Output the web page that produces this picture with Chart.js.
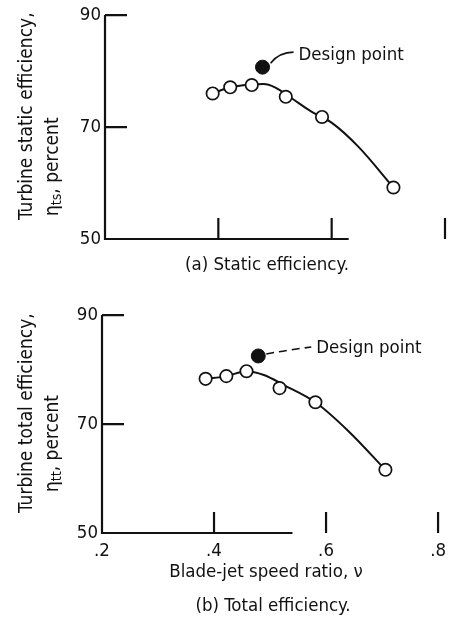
<!DOCTYPE html>
<html>
<head>
<meta charset="utf-8">
<script src="https://cdn.jsdelivr.net/npm/chart.js@4.4.0/dist/chart.umd.min.js"></script>
<style>
body{margin:0;background:#fff;}
#wrap{position:relative;width:453px;height:622px;}
canvas{position:absolute;left:0;}
</style>
</head>
<body>
<div id="wrap">
<canvas id="chartA" width="453" height="300" style="top:0"></canvas>
<canvas id="chartB" width="453" height="322" style="top:300px"></canvas>
</div>
<script>
// values
var xTicks = [0.2, 0.4, 0.6, 0.8];
var xTickLabels = [".2", ".4", ".6", ".8"];
var yTicks = [50, 70, 90];

// (a) static efficiency
var ratioA = [0.39, 0.421, 0.459, 0.519, 0.583, 0.709];
var effA   = [76.0, 77.1, 77.5, 75.4, 71.8, 59.2];
var designA = [0.478, 80.7];
var fairXA = [0.39, 0.421, 0.459, 0.48, 0.50, 0.53, 0.565, 0.601, 0.647, 0.709];
var fairYA = [76.0, 77.1, 77.6, 77.7, 77.1, 75.1, 72.7, 70.7, 66.5, 59.2];

// (b) total efficiency
var ratioB = [0.385, 0.422, 0.458, 0.517, 0.581, 0.706];
var effB   = [78.3, 78.8, 79.7, 76.6, 74.0, 61.6];
var designB = [0.479, 82.5];
var fairXB = [0.385, 0.422, 0.458, 0.489, 0.524, 0.581, 0.641, 0.706];
var fairYB = [78.3, 78.8, 79.7, 79.0, 77.2, 74.0, 68.6, 61.6];

var FAM = '"DejaVu Sans Condensed", "Liberation Sans", sans-serif';
var INK = '#111';

function pts(xs, ys) {
  return xs.map(function (x, i) { return {x: x, y: ys[i]}; });
}

// axis title drawn rotated, parts = [[text, isSub], ...]
function rotText(ctx, parts, x, y) {
  ctx.save();
  ctx.translate(x, y);
  ctx.rotate(-Math.PI / 2);
  ctx.textAlign = 'left';
  ctx.textBaseline = 'alphabetic';
  var cx = 0;
  parts.forEach(function (p) {
    ctx.font = (p[1] ? '14px ' : '19px ') + FAM;
    ctx.fillText(p[0], cx, p[1] ? 3 : 0);
    cx += ctx.measureText(p[0]).width;
  });
  ctx.restore();
}

var sketch = {
  id: 'sketch',
  beforeDatasetsDraw: function (chart, args, o) {
    var ctx = chart.ctx, xs = chart.scales.x, ys = chart.scales.y;
    var x0 = xs.getPixelForValue(xTicks[0]);
    var yb = ys.getPixelForValue(yTicks[0]);
    ctx.save();
    ctx.strokeStyle = INK;
    ctx.lineWidth = 2.2;
    ctx.beginPath();
    ctx.moveTo(x0, ys.getPixelForValue(yTicks[yTicks.length - 1]));
    ctx.lineTo(x0, yb);
    ctx.lineTo(xs.getPixelForValue(o.baseEnd), yb);
    yTicks.slice(1).forEach(function (v) {
      var y = ys.getPixelForValue(v);
      ctx.moveTo(x0, y); ctx.lineTo(x0 + 22, y);
    });
    xTicks.slice(1).forEach(function (v) {
      var x = xs.getPixelForValue(v);
      ctx.moveTo(x, yb); ctx.lineTo(x, yb - 21);
    });
    ctx.stroke();
    ctx.restore();
  },
  afterDatasetsDraw: function (chart, args, o) {
    var ctx = chart.ctx, xs = chart.scales.x, ys = chart.scales.y;
    var dx = xs.getPixelForValue(o.design[0]), dy = ys.getPixelForValue(o.design[1]);
    ctx.save();
    ctx.strokeStyle = INK;
    ctx.fillStyle = INK;
    ctx.lineWidth = 1.6;
    ctx.beginPath();
    if (o.dashed) {
      ctx.setLineDash([8, 5]);
      ctx.moveTo(dx + 8, dy - 2);
      ctx.quadraticCurveTo(dx + 30, dy - 6, dx + 53, dy - 9);
    } else {
      ctx.moveTo(dx + 8, dy - 4);
      ctx.quadraticCurveTo(dx + 17, dy - 15, dx + 31, dy - 15);
    }
    ctx.stroke();
    ctx.setLineDash([]);
    ctx.font = '18.5px ' + FAM;
    ctx.textBaseline = 'middle';
    ctx.textAlign = 'left';
    ctx.fillText('Design point', dx + o.labelDx, dy + o.labelDy);

    rotText(ctx, o.title1, 32, o.t1y);
    rotText(ctx, o.title2, 58, o.t2y);

    ctx.textAlign = 'center';
    ctx.font = '18.5px ' + FAM;
    o.captions.forEach(function (c) {
      ctx.fillText(c[0], c[1], c[2]);
    });
    ctx.restore();
  }
};

function makeChart(id, d) {
  return new Chart(id, {
    type: 'scatter',
    data: {
      datasets: [
        {data: pts(d.xs, d.ys), order: 1, pointRadius: 6.2, pointBorderWidth: 1.7,
         pointBackgroundColor: '#fff', pointBorderColor: INK},
        {data: [{x: d.design[0], y: d.design[1]}], order: 1, pointRadius: 7,
         pointBackgroundColor: INK, pointBorderColor: INK},
        {data: pts(d.fx, d.fy), order: 2, showLine: true, pointRadius: 0,
         borderColor: INK, borderWidth: 2, cubicInterpolationMode: 'monotone'}
      ]
    },
    options: {
      responsive: false,
      animation: false,
      layout: {padding: d.pad},
      plugins: {
        legend: {display: false},
        tooltip: {enabled: false},
        sketch: d.sketch
      },
      scales: {
        x: {
          type: 'linear', min: 0.2, max: 0.8,
          display: d.showX,
          grid: {display: false, drawTicks: false},
          border: {display: false},
          afterBuildTicks: function (s) { s.ticks = xTicks.map(function (v) { return {value: v}; }); },
          afterFit: function (s) { s.height = d.xh; },
          ticks: {
            padding: 7, color: INK, font: {family: FAM, size: 18.5},
            callback: function (v) { return xTickLabels[xTicks.indexOf(v)]; }
          }
        },
        y: {
          min: 50, max: 90,
          grid: {display: false, drawTicks: false},
          border: {display: false},
          afterBuildTicks: function (s) { s.ticks = yTicks.map(function (v) { return {value: v}; }); },
          afterFit: function (s) { s.width = d.yw; },
          ticks: {padding: 4, color: INK, font: {family: FAM, size: 18.5}}
        }
      }
    },
    plugins: [sketch]
  });
}

makeChart('chartA', {
  xs: ratioA, ys: effA, design: designA, fx: fairXA, fy: fairYA,
  pad: {left: 0, right: 6, top: 15, bottom: 61},
  showX: false, xh: 0, yw: 105,
  sketch: {
    baseEnd: 0.63, design: designA, dashed: false, labelDx: 36, labelDy: -12,
    title1: [['Turbine static efficiency,', false]],
    title2: [['\u03b7', false], ['ts', true], [', percent', false]],
    t1y: 220, t2y: 216,
    captions: [['(a) Static efficiency.', 267, 265]]
  }
});

makeChart('chartB', {
  xs: ratioB, ys: effB, design: designB, fx: fairXB, fy: fairYB,
  pad: {left: 0, right: 9, top: 11, bottom: 0},
  showX: true, xh: 89, yw: 102,
  sketch: {
    baseEnd: 0.54, design: designB, dashed: true, labelDx: 58, labelDy: -8,
    title1: [['Turbine total efficiency,', false]],
    title2: [['\u03b7', false], ['tt', true], [', percent', false]],
    t1y: 213, t2y: 192,
    captions: [['Blade-jet speed ratio, \u03bd', 266, 272], ['(b) Total efficiency.', 273, 306]]
  }
});
</script>
</body>
</html>
